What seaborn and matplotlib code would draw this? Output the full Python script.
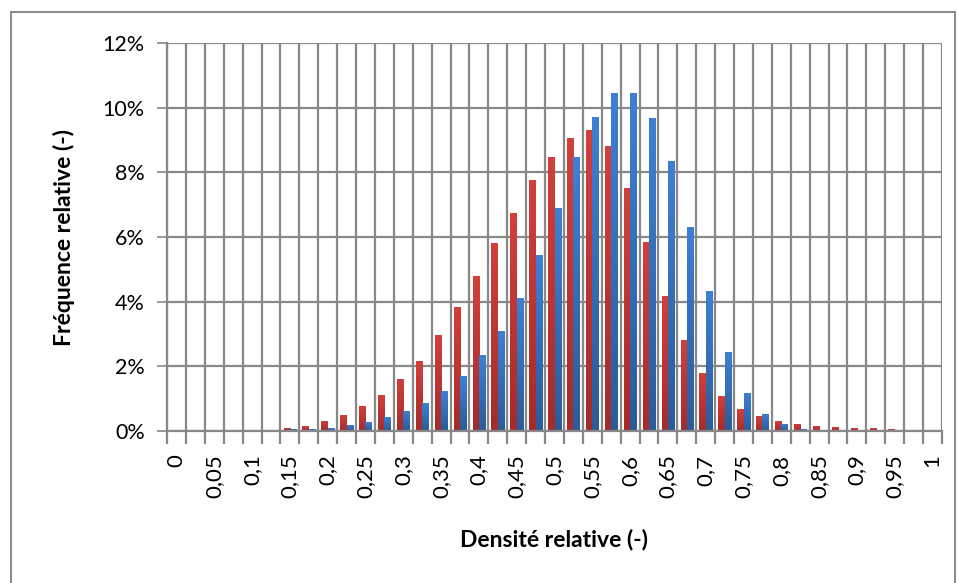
import numpy as np
import pandas as pd
import matplotlib
matplotlib.use("Agg")
import matplotlib.pyplot as plt
import seaborn as sns
from matplotlib.patches import Rectangle
from matplotlib.colors import LinearSegmentedColormap
from matplotlib.ticker import FixedLocator, PercentFormatter

# ---- data -------------------------------------------------------------
categories = [f"{i * 0.025:.3f}" for i in range(41)]  # 0, 0.025, ..., 1
tick_labels = ["0", "0,05", "0,1", "0,15", "0,2", "0,25", "0,3", "0,35", "0,4",
               "0,45", "0,5", "0,55", "0,6", "0,65", "0,7", "0,75", "0,8",
               "0,85", "0,9", "0,95", "1"]
serie_rouge = [0, 0, 0, 0, 0, 0.03, 0.10, 0.15, 0.31, 0.50,
               0.77, 1.11, 1.61, 2.17, 2.97, 3.84, 4.80, 5.82, 6.75, 7.77,
               8.48, 9.07, 9.32, 8.82, 7.52, 5.85, 4.18, 2.82, 1.80, 1.08,
               0.68, 0.47, 0.31, 0.23, 0.16, 0.13, 0.09, 0.09, 0.06, 0.04, 0]
serie_bleue = [0, 0, 0.04, 0.04, 0.04, 0.04, 0.07, 0.06, 0.09, 0.19,
               0.28, 0.43, 0.62, 0.87, 1.24, 1.70, 2.35, 3.10, 4.12, 5.45,
               6.90, 8.48, 9.72, 10.46, 10.46, 9.69, 8.36, 6.32, 4.33, 2.45,
               1.18, 0.53, 0.23, 0.07, 0, 0, 0, 0, 0, 0, 0]
series_names = ["Série 1", "Série 2"]

df = pd.DataFrame({
    "cat": categories * 2,
    "val": serie_rouge + serie_bleue,
    "serie": [series_names[0]] * len(categories) + [series_names[1]] * len(categories),
})

# ---- style -------------------------------------------------------------
sns.set_theme(style="white")
plt.rcParams["font.family"] = ["Lato", "DejaVu Sans"]

grid_c = "#888888"
red_top, red_bot = "#d2403b", "#a42b2b"
blue_top, blue_bot = "#3e80d4", "#2c5b98"

fig = plt.figure(figsize=(9.58, 5.83), dpi=100)
ax = fig.add_axes([167 / 958, 1 - 431 / 583, 775 / 958, 388 / 583])

sns.barplot(data=df, x="cat", y="val", hue="serie", order=categories,
            hue_order=series_names, palette=[red_bot, blue_bot],
            width=0.667, gap=0, legend=False, ax=ax, saturation=1,
            linewidth=0, zorder=3)

# gradient fills clipped to each bar
for cont, (top, bot) in zip(ax.containers, [(red_top, red_bot), (blue_top, blue_bot)]):
    cmap = LinearSegmentedColormap.from_list("g", [bot, top])
    grad = np.linspace(0, 1, 64).reshape(-1, 1)
    for p in cont.patches:
        h = p.get_height()
        if h <= 0:
            continue
        x0, w = p.get_x(), p.get_width()
        im = ax.imshow(grad, cmap=cmap, origin="lower", aspect="auto",
                       extent=[x0, x0 + w, 0, h], zorder=3.5,
                       interpolation="bilinear")
        im.set_clip_path(p)

ax.set_xlim(-0.5, 40.5)
ax.set_ylim(0, 12)

# y axis
ax.yaxis.set_major_locator(FixedLocator([0, 2, 4, 6, 8, 10, 12]))
ax.yaxis.set_major_formatter(PercentFormatter(decimals=0))
ax.grid(axis="y", color=grid_c, lw=1.6, zorder=1)

# x axis: labels on every other category, grid on boundaries
ax.set_xticks(np.arange(0, 41, 2))
ax.set_xticklabels(tick_labels, rotation=90)
ax.set_xticks(np.arange(-0.5, 41, 1), minor=True)
ax.grid(axis="x", which="minor", color=grid_c, lw=1.6, zorder=1)
ax.tick_params(axis="x", which="major", length=0, pad=17, labelsize=16,
               labelcolor="#000000")
ax.tick_params(axis="x", which="minor", length=9, width=1.6, color=grid_c,
               direction="out", bottom=True)
ax.tick_params(axis="y", which="major", length=7, width=1.2, color=grid_c,
               direction="out", left=True, labelsize=15.5, pad=9,
               labelcolor="#000000")

for s in ["top", "right"]:
    ax.spines[s].set_visible(False)
for s in ["left", "bottom"]:
    ax.spines[s].set_color(grid_c)
    ax.spines[s].set_linewidth(1.6)
    ax.spines[s].set_zorder(4)

ax.set_xlabel("Densité relative (-)", fontsize=16.5, fontweight="bold",
              labelpad=22, color="#000000")
ax.set_ylabel("Fréquence relative (-)", fontsize=16.5, fontweight="bold",
              labelpad=20, color="#000000")

# outer chart border (bottom edge cut off like in the reference)
fig.patches.append(Rectangle((11 / 958, -8 / 583), 944 / 958, 579 / 583,
                             transform=fig.transFigure, fill=False,
                             edgecolor="#8c8c8c", lw=1.5))

fig.savefig("out.png", dpi=100)
